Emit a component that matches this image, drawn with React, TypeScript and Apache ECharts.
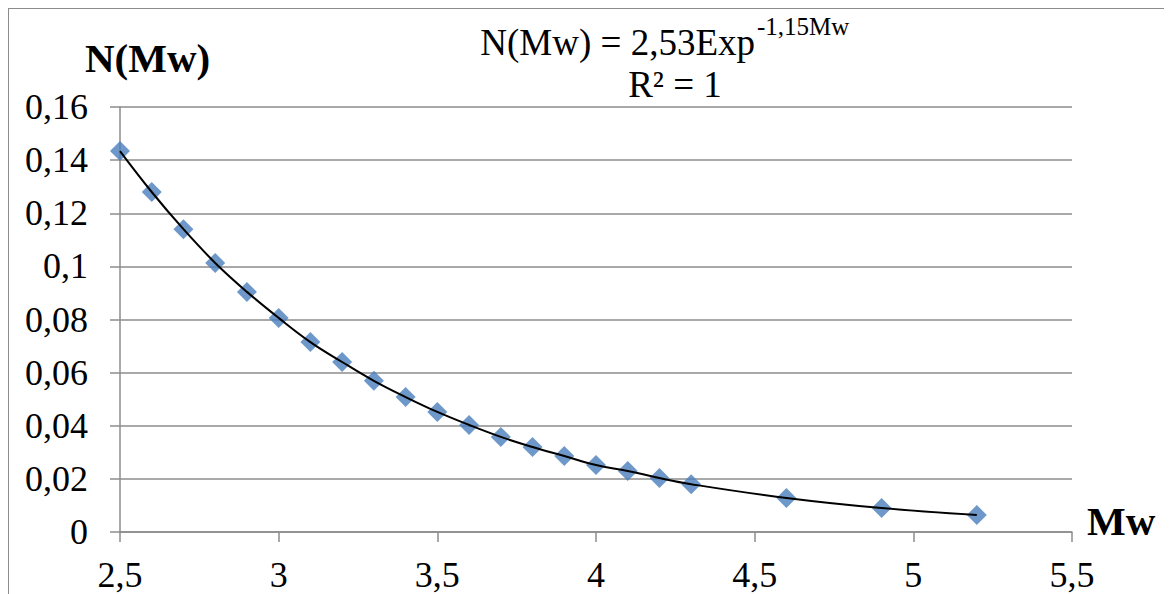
import React, { useEffect, useRef } from "react";
import * as echarts from "echarts";

const mwValues = [2.5, 2.6, 2.7, 2.8, 2.9, 3.0, 3.1, 3.2, 3.3, 3.4, 3.5, 3.6, 3.7, 3.8, 3.9, 4.0, 4.1, 4.2, 4.3, 4.6, 4.9, 5.2];
const nValues = [0.1434, 0.128, 0.114, 0.1013, 0.0904, 0.0806, 0.0715, 0.064, 0.0569, 0.0508, 0.0452, 0.0403, 0.0358, 0.032, 0.0286, 0.0252, 0.023, 0.0203, 0.018, 0.0128, 0.009, 0.0064];
const yTitle = "N(Mw)";
const xTitle = "Mw";
const equationMain = "N(Mw) = 2,53Exp";
const equationSup = "-1,15Mw";
const rSquared = "R² = 1";

const FONT = "'Liberation Serif', 'Times New Roman', serif";

export default function App() {
  const ref = useRef<HTMLDivElement>(null);
  useEffect(() => {
    if (!ref.current) return;
    const chart = echarts.init(ref.current, undefined, { renderer: "svg" });
    const pts = mwValues.map((x, i) => [x, nValues[i]]);
    const fmt = (v: number) => String(+v.toFixed(2)).replace(".", ",");
    chart.setOption({
      animation: false,
      backgroundColor: "#ffffff",
      grid: { left: 111, top: 98, width: 952, height: 425, containLabel: false },
      xAxis: {
        type: "value",
        min: 2.5,
        max: 5.5,
        interval: 0.5,
        axisLine: { show: true, onZero: false, lineStyle: { color: "#8c8c8c", width: 1.5 } },
        axisTick: { show: true, length: 10, lineStyle: { color: "#8c8c8c", width: 1.5 } },
        axisLabel: { margin: 25, fontFamily: FONT, fontSize: 36, color: "#000", formatter: fmt },
        splitLine: { show: false },
      },
      yAxis: {
        type: "value",
        min: 0,
        max: 0.16,
        interval: 0.02,
        axisLine: { show: true, lineStyle: { color: "#8c8c8c", width: 1.5 } },
        axisTick: { show: true, length: 10, lineStyle: { color: "#8c8c8c", width: 1.5 } },
        axisLabel: { margin: 32, fontFamily: FONT, fontSize: 36, color: "#000", formatter: fmt },
        splitLine: { show: true, lineStyle: { color: "#8c8c8c", width: 1.5 } },
      },
      series: [
        {
          type: "scatter",
          data: pts,
          symbol: "diamond",
          symbolSize: 20,
          itemStyle: { color: "#4a7ebb" },
          z: 2,
        },
        {
          type: "line",
          data: pts,
          smooth: 0.4,
          showSymbol: false,
          symbol: "none",
          lineStyle: { color: "#000", width: 2 },
          z: 3,
        },
      ],
      graphic: [
        { type: "text", left: 76, top: 28, style: { text: yTitle, fontFamily: FONT, fontSize: 41, fontWeight: "bold", fill: "#000" } },
        { type: "text", left: 1078, top: 491, style: { text: xTitle, fontFamily: FONT, fontSize: 41, fontWeight: "bold", fill: "#000" } },
        { type: "text", x: 746, y: 33.5, style: { text: equationMain, fontFamily: FONT, fontSize: 37, fill: "#000", align: "right", verticalAlign: "middle" } },
        { type: "text", x: 748, y: 17.6, style: { text: equationSup, fontFamily: FONT, fontSize: 25, fill: "#000", align: "left", verticalAlign: "middle" } },
        { type: "text", x: 666, y: 75.5, style: { text: rSquared, fontFamily: FONT, fontSize: 37, fill: "#000", align: "center", verticalAlign: "middle" } },
      ],
    });
    return () => chart.dispose();
  }, []);
  return (
    <div
      style={{
        width: 1164,
        height: 586,
        borderTop: "1.5px solid #8c8c8c",
        borderLeft: "1.5px solid #8c8c8c",
        boxSizing: "border-box",
        background: "#fff",
      }}
    >
      <div ref={ref} style={{ width: 1162, height: 584 }} />
    </div>
  );
}
